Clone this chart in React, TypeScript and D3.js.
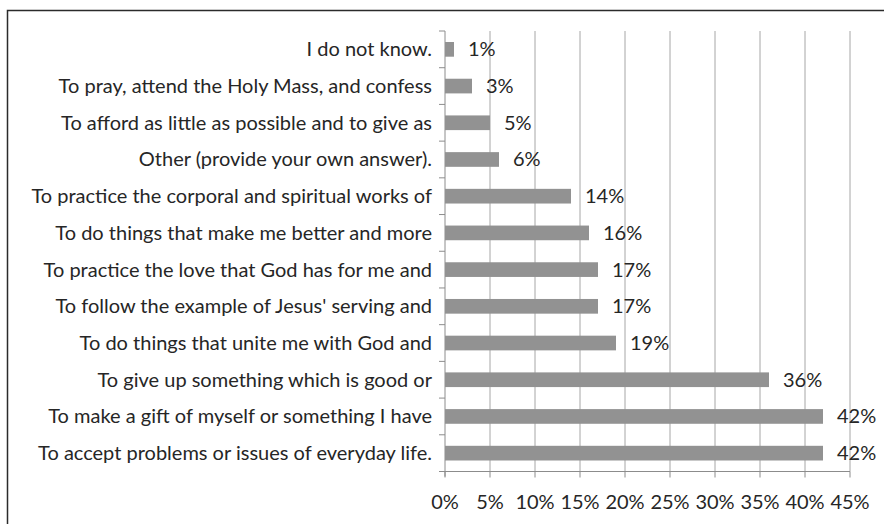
import React from "react";
import * as d3 from "d3";

const categories = [
  "I do not know.",
  "To pray, attend the Holy Mass, and confess",
  "To afford as little as possible and to give as",
  "Other (provide your own answer).",
  "To practice the corporal and spiritual works of",
  "To do things that make me better and more",
  "To practice the love that God has for me and",
  "To follow the example of Jesus' serving and",
  "To do things that unite me with God and",
  "To give up something which is good or",
  "To make a gift of myself or something I have",
  "To accept problems or issues of everyday life.",
];
const values = [1, 3, 5, 6, 14, 16, 17, 17, 19, 36, 42, 42];
const ticks = [0, 5, 10, 15, 20, 25, 30, 35, 40, 45];

const W = 884;
const H = 524;
const FONT = "Lato, 'Open Sans', sans-serif";
const FS = 20;

export default function App() {
  const x = d3.scaleLinear().domain([0, 45]).range([445, 850]);
  const y = d3
    .scaleBand<string>()
    .domain(categories)
    .range([31, 471.5])
    .paddingInner(0.6)
    .paddingOuter(0.3);
  const step = y.step();
  const top = 31;
  const bottom = 471.5;
  const textColor = "#262626";
  return (
    <svg
      width={W}
      height={H}
      style={{ position: "absolute", left: 0, top: 0, background: "#fff" }}
      fontFamily={FONT}
    >
      <rect x={7.5} y={10.5} width={W + 10} height={H + 10} fill="#fff" stroke="#2b2b2b" strokeWidth={1.5} />
      {ticks.slice(1).map((t) => (
        <line key={"g" + t} x1={x(t)} x2={x(t)} y1={top} y2={bottom} stroke="#a6a6a6" strokeWidth={1} />
      ))}
      {/* y axis */}
      <line x1={x(0)} x2={x(0)} y1={top} y2={bottom + 5} stroke="#8c8c8c" />
      {d3.range(categories.length + 1).map((i) => (
        <line key={"yt" + i} x1={x(0) - 6} x2={x(0)} y1={top + i * step} y2={top + i * step} stroke="#8c8c8c" />
      ))}
      {/* x axis */}
      <line x1={x(0)} x2={x(45)} y1={bottom} y2={bottom} stroke="#8c8c8c" />
      {ticks.map((t) => (
        <g key={"xt" + t}>
          <line x1={x(t)} x2={x(t)} y1={bottom} y2={bottom + 6} stroke="#8c8c8c" />
          <text x={x(t)} y={502} dy="0.35em" textAnchor="middle" fontSize={FS} fill={textColor}>
            {t + "%"}
          </text>
        </g>
      ))}
      {categories.map((c, i) => (
        <g key={c}>
          <rect x={x(0)} y={y(c)!} width={x(values[i]) - x(0)} height={y.bandwidth()} fill="#929292" />
          <text x={432} y={y(c)! + y.bandwidth() / 2} dy="0.35em" textAnchor="end" fontSize={FS} fill={textColor}>
            {c}
          </text>
          <text x={x(values[i]) + 14} y={y(c)! + y.bandwidth() / 2} dy="0.35em" fontSize={FS} fill={textColor}>
            {values[i] + "%"}
          </text>
        </g>
      ))}
    </svg>
  );
}
